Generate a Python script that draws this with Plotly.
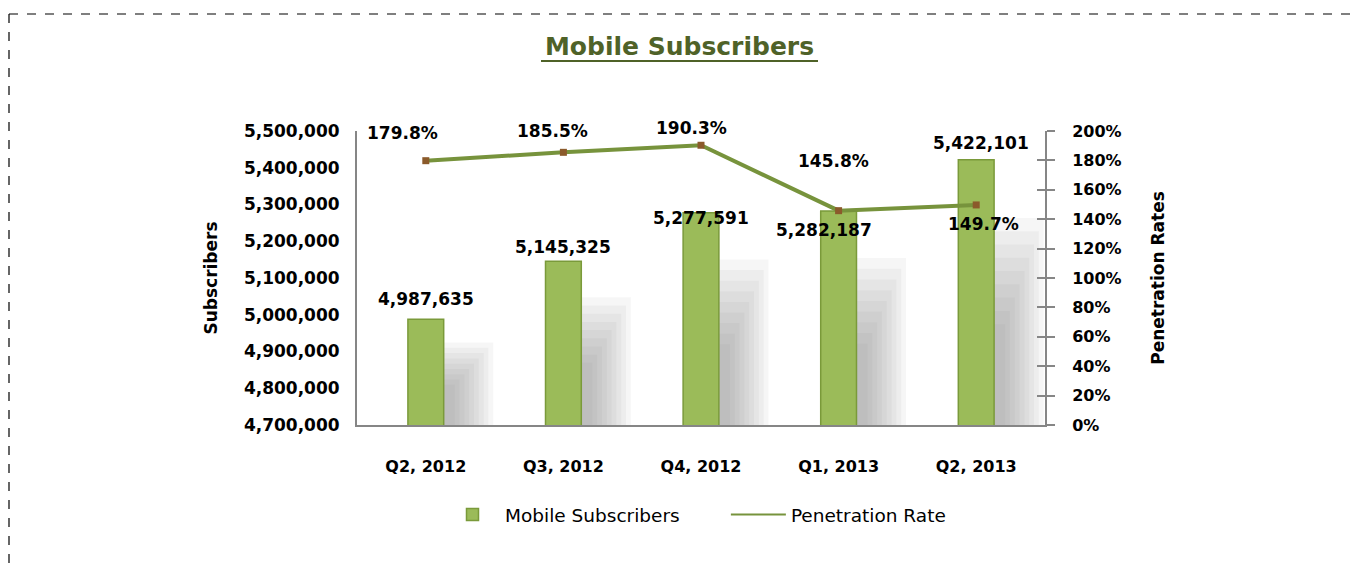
import plotly.graph_objects as go

categories = ["Q2, 2012", "Q3, 2012", "Q4, 2012", "Q1, 2013", "Q2, 2013"]
subscribers = [4987635, 5145325, 5277591, 5282187, 5422101]
penetration = [179.8, 185.5, 190.3, 145.8, 149.7]
left_ticks = [4700000, 4800000, 4900000, 5000000, 5100000, 5200000, 5300000, 5400000, 5500000]
right_ticks = [0, 20, 40, 60, 80, 100, 120, 140, 160, 180, 200]
right_labels = [f"{t}%" for t in right_ticks]

OFF = 8  # page body margin
W, H = 1350, 562
L, R, T, B = 357 - OFF, 1045 - OFF, 131 - OFF, 425 - OFF
ml, mr, mt, mb = L, W - R, T, H - B

def px(x):
    return (x - OFF - L) / (R - L)

def py(y):
    return (B - (y - OFF)) / (B - T)

FONT = "DejaVu Sans"
YMIN, YMAX = 4700000, 5500000
NBSP = "\u00a0"

fig = go.Figure()

# soft shadow layers (decorative), derived from bar values
n_layers = 9
for i in range(n_layers):
    frac = 0.78 - 0.05 * i
    wid = 0.36 - 0.035 * i
    fig.add_trace(go.Bar(
        x=categories, y=[YMIN + frac * (v - YMIN) for v in subscribers], yaxis="y",
        offset=0.13, width=wid,
        marker=dict(color="rgba(120,120,120,0.065)", line=dict(width=0)),
        showlegend=False, hoverinfo="skip"))

fig.add_trace(go.Bar(
    x=categories, y=subscribers, name="Mobile Subscribers" + NBSP * 7, yaxis="y",
    offset=-0.13, width=0.26,
    marker=dict(color="#9BBB59", line=dict(color="#7A9A3A", width=1.5))))

fig.add_trace(go.Scatter(
    x=categories, y=penetration, name="Penetration Rate", yaxis="y2",
    mode="lines+markers", showlegend=False,
    line=dict(color="#77933C", width=4),
    marker=dict(symbol="square", size=7, color="#8B5A2B"),
))
fig.add_trace(go.Scatter(
    x=[None], y=[None], name="Penetration Rate", yaxis="y2", mode="lines",
    line=dict(color="#77933C", width=2), showlegend=True))
# dummy trace for the inner tick axis
fig.add_trace(go.Scatter(x=[categories[0]], y=[0], yaxis="y3", mode="markers",
                         marker=dict(opacity=0), showlegend=False, hoverinfo="skip"))

ann = []
bar_shift = [(0, 20), (0, 14), (0, -5), (-15, -19), (5, 17)]
for c, v, (dx, dy) in zip(categories, subscribers, bar_shift):
    ann.append(dict(x=c, y=v, xref="x", yref="y", text="<b>" + f"{v:,}" + "</b>",
                    showarrow=False, xshift=dx, yshift=dy,
                    font=dict(family=FONT, size=17, color="black")))
pen_shift = [(-23, 28), (-11, 21), (-10, 17), (-5, 50), (7, -19)]
for c, v, (dx, dy) in zip(categories, penetration, pen_shift):
    ann.append(dict(x=c, y=v, xref="x", yref="y2", text=f"<b>{v:.1f}%</b>",
                    showarrow=False, xshift=dx, yshift=dy,
                    font=dict(family=FONT, size=17, color="black")))

shapes = [
    dict(type="line", xref="paper", yref="paper", x0=px(541), x1=px(818),
         y0=py(61), y1=py(61), line=dict(color="#4F6228", width=2)),
    dict(type="line", xref="paper", yref="paper", x0=px(9), x1=px(1362),
         y0=py(14), y1=py(14), line=dict(color="black", width=1.2, dash="dash")),
    dict(type="line", xref="paper", yref="paper", x0=px(9), x1=px(9),
         y0=py(14), y1=py(575), line=dict(color="black", width=1.2, dash="dash")),
]

fig.update_layout(
    width=W, height=H,
    margin=dict(l=ml, r=mr, t=mt, b=mb),
    paper_bgcolor="white", plot_bgcolor="white",
    barmode="overlay",
    font=dict(family=FONT, color="black"),
    title=dict(text="Mobile Subscribers", x=(679.5 - OFF) / W, xref="container", xanchor="center",
               y=1 - (46 - OFF) / H, yanchor="middle",
               font=dict(family=FONT, size=25, color="#4F6228", weight="bold")),
    xaxis=dict(type="category", showgrid=False, showline=True, linecolor="#868686",
               linewidth=2, ticks="", ticklabelstandoff=26,
               tickfont=dict(family=FONT, size=16, weight="bold")),
    yaxis=dict(range=[YMIN, YMAX], tickvals=left_ticks, tickformat=",",
               showgrid=False, showline=True, linecolor="#868686", linewidth=2,
               ticks="", ticklabelstandoff=12, zeroline=False,
               tickfont=dict(family=FONT, size=17, weight="bold"),
               title=dict(text="Subscribers", standoff=22,
                          font=dict(family=FONT, size=17, weight="bold"))),
    yaxis2=dict(range=[0, 200], tickvals=right_ticks, ticktext=right_labels,
                overlaying="y", side="right", showgrid=False, showline=True,
                linecolor="#868686", linewidth=2, ticks="outside", ticklen=8,
                tickcolor="#868686", tickwidth=1.5, ticklabelstandoff=14, zeroline=False,
                tickfont=dict(family=FONT, size=16, weight="bold"),
                title=dict(text="Penetration Rates", standoff=31,
                           font=dict(family=FONT, size=17, weight="bold"))),
    yaxis3=dict(range=[0, 200], tickvals=right_ticks, overlaying="y", side="right",
                showgrid=False, showline=False, ticks="inside", ticklen=8,
                tickcolor="#868686", tickwidth=1.5, showticklabels=False, zeroline=False),
    legend=dict(orientation="h", x=px(440), xanchor="left", y=py(515), yanchor="middle",
                font=dict(family=FONT, size=18.5), traceorder="normal",
                itemwidth=55),
    annotations=ann,
    shapes=shapes,
)

fig.write_html("out.html")
